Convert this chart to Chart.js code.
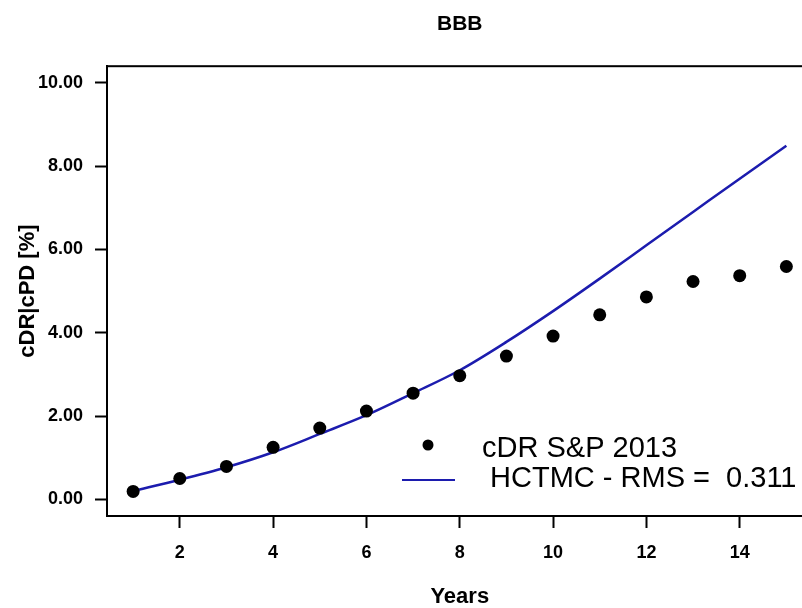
<!DOCTYPE html>
<html>
<head>
<meta charset="utf-8">
<script src="https://cdn.jsdelivr.net/npm/chart.js@4/dist/chart.umd.min.js"></script>
<style>
    html, body { margin: 0; padding: 0; background: #fff; overflow: hidden; }
    #frame { position: relative; width: 802px; height: 608px; overflow: hidden; }
    canvas { display: block; }
</style>
</head>
<body>
<div id="frame"><canvas id="bbbChart" width="819" height="608"></canvas></div>
<script>
// Data
const years = [1, 2, 3, 4, 5, 6, 7, 8, 9, 10, 11, 12, 13, 14, 15];
const cdrValues = [0.19, 0.50, 0.79, 1.25, 1.71, 2.12, 2.55, 2.97, 3.44, 3.92, 4.43, 4.86, 5.23, 5.37, 5.59];
const hctmcValues = [0.20, 0.47, 0.77, 1.13, 1.57, 2.02, 2.55, 3.10, 3.78, 4.52, 5.30, 6.10, 6.90, 7.70, 8.49];
const xTicks = [2, 4, 6, 8, 10, 12, 14];
const yTicks = [0, 2, 4, 6, 8, 10];
const seriesLabels = ['cDR S&P 2013', ' HCTMC - RMS =  0.311'];

const FONT = "'Liberation Sans', Arial, sans-serif";
const lineColor = '#1c1cae';

// R style axis limits (range extended by 4%)
const xPad = (years[years.length - 1] - years[0]) * 0.04;
const yPad = (yTicks[yTicks.length - 1] - yTicks[0]) * 0.04;

// Full box around the plot region (right side falls outside the picture)
const boxPlugin = {
    id: 'plotBox',
    afterDatasetsDraw(chart) {
        const a = chart.chartArea;
        const c = chart.ctx;
        c.save();
        c.strokeStyle = '#000';
        c.lineWidth = 2;
        c.strokeRect(a.left, a.top, a.right - a.left, a.bottom - a.top);
        c.restore();
    }
};

// Legend without frame, bottom right inside the plot
const insetLegend = {
    id: 'insetLegend',
    afterDraw(chart) {
        const a = chart.chartArea;
        const c = chart.ctx;
        const ds = chart.data.datasets;
        const textX = a.left + 375;
        const rows = [a.bottom - 71, a.bottom - 36];
        c.save();
        c.font = '29px ' + FONT;
        c.textBaseline = 'alphabetic';
        c.textAlign = 'left';

        // points entry
        c.beginPath();
        c.arc(a.left + 321, rows[0], 5.5, 0, Math.PI * 2);
        c.fillStyle = ds[0].backgroundColor;
        c.fill();
        c.fillStyle = '#000';
        c.fillText(ds[0].label, textX, rows[0] + 12);

        // line entry
        c.beginPath();
        c.moveTo(a.left + 295, rows[1]);
        c.lineTo(a.left + 348, rows[1]);
        c.strokeStyle = ds[1].borderColor;
        c.lineWidth = 2;
        c.stroke();
        c.fillText(ds[1].label, textX, rows[1] + 7);
        c.restore();
    }
};

const ctx = document.getElementById('bbbChart').getContext('2d');

new Chart(ctx, {
    type: 'scatter',
    data: {
        datasets: [
            {
                label: seriesLabels[0],
                data: years.map((x, i) => ({ x: x, y: cdrValues[i] })),
                backgroundColor: '#000',
                borderWidth: 0,
                pointRadius: 6.5,
                showLine: false
            },
            {
                label: seriesLabels[1],
                data: years.map((x, i) => ({ x: x, y: hctmcValues[i] })),
                borderColor: lineColor,
                backgroundColor: lineColor,
                borderWidth: 2.5,
                pointRadius: 0,
                showLine: true,
                cubicInterpolationMode: 'monotone'
            }
        ]
    },
    options: {
        responsive: false,
        animation: false,
        layout: {
            padding: 0
        },
        plugins: {
            legend: {
                display: false
            },
            tooltip: {
                enabled: false
            },
            title: {
                display: true,
                text: 'BBB',
                fullSize: false,
                color: '#000',
                font: { size: 21, weight: 'bold', family: FONT },
                padding: { top: 12, bottom: 29 }
            }
        },
        scales: {
            x: {
                type: 'linear',
                min: years[0] - xPad,
                max: years[years.length - 1] + xPad,
                afterBuildTicks: function(scale) {
                    scale.ticks = xTicks.map(v => ({ value: v }));
                },
                afterFit: function(scale) {
                    scale.height = 92;
                    scale.paddingLeft = 0;
                    scale.paddingRight = 0;
                },
                grid: {
                    display: true,
                    drawOnChartArea: false,
                    drawTicks: true,
                    tickLength: 12,
                    tickColor: '#000',
                    tickWidth: 2
                },
                border: {
                    display: true,
                    color: '#000',
                    width: 2
                },
                ticks: {
                    color: '#000',
                    font: { size: 18, weight: 'bold', family: FONT },
                    padding: 14,
                    maxRotation: 0,
                    autoSkip: false
                },
                title: {
                    display: true,
                    text: 'Years',
                    color: '#000',
                    font: { size: 22, weight: 'bold', family: FONT, lineHeight: 1 },
                    padding: { top: 0, bottom: 0 }
                }
            },
            y: {
                type: 'linear',
                min: yTicks[0] - yPad,
                max: yTicks[yTicks.length - 1] + yPad,
                afterBuildTicks: function(scale) {
                    scale.ticks = yTicks.map(v => ({ value: v }));
                },
                afterFit: function(scale) {
                    scale.width = 107;
                    scale.paddingTop = 0;
                    scale.paddingBottom = 0;
                },
                grid: {
                    display: true,
                    drawOnChartArea: false,
                    drawTicks: true,
                    tickLength: 12,
                    tickColor: '#000',
                    tickWidth: 2
                },
                border: {
                    display: true,
                    color: '#000',
                    width: 2
                },
                ticks: {
                    color: '#000',
                    font: { size: 18, weight: 'bold', family: FONT },
                    padding: 12,
                    autoSkip: false,
                    callback: function(value) {
                        return Number(value).toFixed(2);
                    }
                },
                title: {
                    display: true,
                    text: 'cDR|cPD [%]',
                    color: '#000',
                    font: { size: 22, weight: 'bold', family: FONT },
                    padding: { top: 15, bottom: 0 }
                }
            }
        }
    },
    plugins: [boxPlugin, insetLegend]
});
</script>
</body>
</html>
